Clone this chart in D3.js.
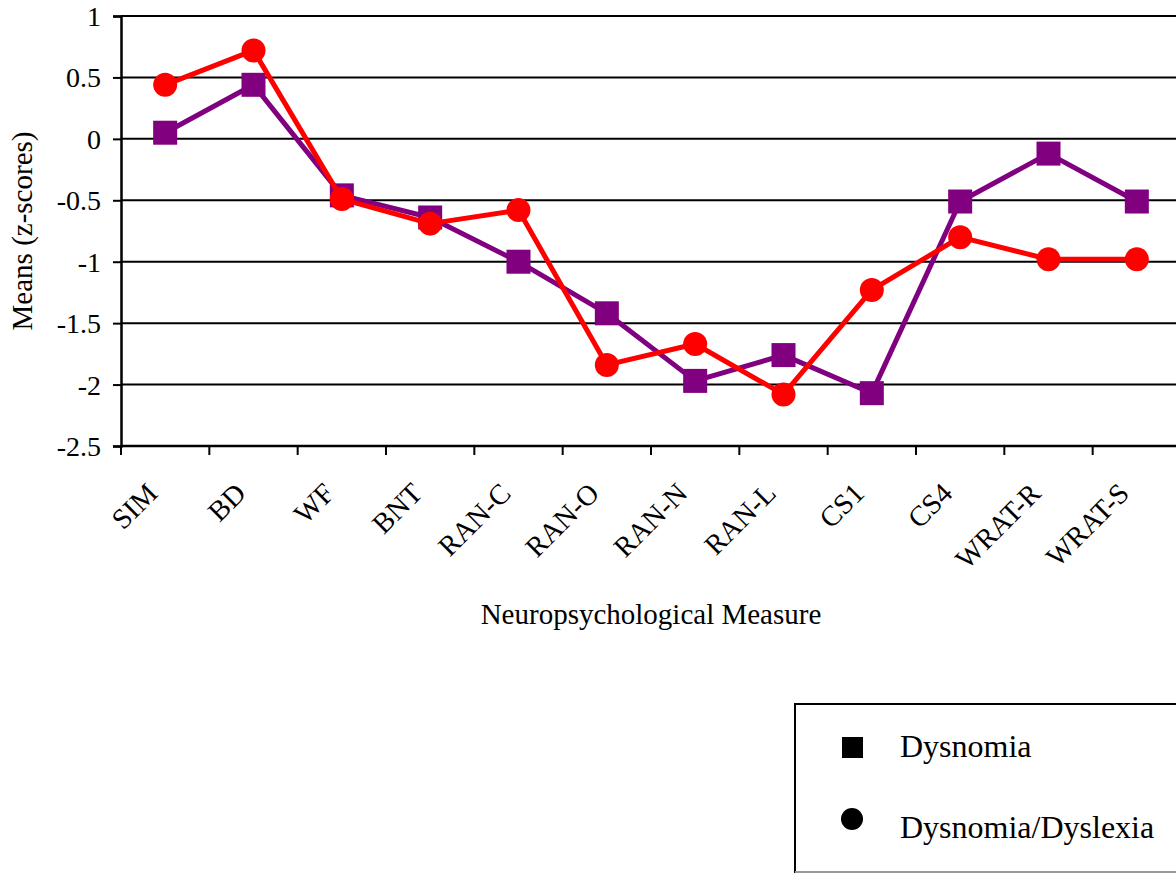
<!DOCTYPE html>
<html>
<head>
<meta charset="utf-8">
<script src="https://cdn.jsdelivr.net/npm/d3@7"></script>
<style>
html,body{margin:0;padding:0;background:#fff;overflow:hidden;}
svg{display:block;}
text{font-family:"Liberation Serif","Times New Roman",serif;fill:#000;}
</style>
</head>
<body>
<svg id="chart" width="1176" height="873"></svg>
<script>
const categories = ["SIM","BD","WF","BNT","RAN-C","RAN-O","RAN-N","RAN-L","CS1","CS4","WRAT-R","WRAT-S"];
const dysnomia = [0.05, 0.44, -0.46, -0.64, -1.0, -1.42, -1.97, -1.76, -2.07, -0.51, -0.12, -0.51];
const dysnomiaDyslexia = [0.44, 0.72, -0.49, -0.69, -0.58, -1.84, -1.67, -2.08, -1.23, -0.80, -0.98, -0.98];
const yTicks = [1, 0.5, 0, -0.5, -1, -1.5, -2, -2.5];
const seriesNames = ["Dysnomia", "Dysnomia/Dyslexia"];
const seriesColors = ["#800080", "#ff0000"];

const svg = d3.select("#chart");
const pLeft = 121, pRight = 1181, pTop = 16, pBottom = 446;

const x = d3.scaleBand().domain(categories).range([pLeft, pRight]).padding(0);
const y = d3.scaleLinear().domain([-2.5, 1]).range([pBottom, pTop]);

// gridlines
svg.append("g").selectAll("line")
  .data(yTicks.filter(v => v > -2.5))
  .join("line")
  .attr("x1", pLeft).attr("x2", pRight)
  .attr("y1", d => y(d)).attr("y2", d => y(d))
  .attr("stroke", "#000").attr("stroke-width", 2);

// y axis
const yAxis = d3.axisLeft(y).tickValues(yTicks).tickSize(8).tickPadding(12)
  .tickFormat(d => String(d));
const gy = svg.append("g").attr("transform", `translate(${pLeft},0)`).call(yAxis);
gy.select(".domain").attr("stroke", "#000").attr("stroke-width", 2.5);
gy.selectAll(".tick line").attr("stroke", "#000").attr("stroke-width", 2);
gy.selectAll(".tick text").style("font-size", "28px").attr("dy", "0.34em")
  .style("font-family", '"Liberation Serif","Times New Roman",serif');

// x axis
const xTickPos = d3.scaleLinear().domain([0, categories.length]).range([pLeft, pRight]);
const gx = svg.append("g");
gx.append("line").attr("x1", pLeft).attr("x2", pRight).attr("y1", pBottom).attr("y2", pBottom)
  .attr("stroke", "#000").attr("stroke-width", 2.5);
gx.selectAll("line.tk").data(d3.range(categories.length + 1)).join("line")
  .attr("class", "tk")
  .attr("x1", d => xTickPos(d)).attr("x2", d => xTickPos(d))
  .attr("y1", pBottom).attr("y2", pBottom + 9)
  .attr("stroke", "#000").attr("stroke-width", 2);
gx.selectAll("text").data(categories).join("text")
  .attr("transform", d => `translate(${x(d) + x.bandwidth() / 2 - 6},${495}) rotate(-45)`)
  .attr("text-anchor", "end")
  .style("font-size", "28.5px")
  .text(d => d);

// axis titles
svg.append("text")
  .attr("x", (pLeft + pRight) / 2).attr("y", 624)
  .attr("text-anchor", "middle").style("font-size", "29px")
  .text("Neuropsychological Measure");
svg.append("text")
  .attr("transform", `translate(32,${(pTop + pBottom) / 2}) rotate(-90)`)
  .attr("text-anchor", "middle").style("font-size", "29px")
  .text("Means (z-scores)");

// series
const line = d3.line().x((d, i) => x(categories[i]) + x.bandwidth() / 2).y(d => y(d));
const allSeries = [dysnomia, dysnomiaDyslexia];
allSeries.forEach((vals, si) => {
  const g = svg.append("g");
  g.append("path").datum(vals).attr("d", line)
    .attr("fill", "none").attr("stroke", seriesColors[si]).attr("stroke-width", 5)
    .attr("stroke-linejoin", "round");
  if (si === 0) {
    g.selectAll("rect").data(vals).join("rect")
      .attr("x", (d, i) => x(categories[i]) + x.bandwidth() / 2 - 12)
      .attr("y", d => y(d) - 12)
      .attr("width", 24).attr("height", 24)
      .attr("fill", seriesColors[si]);
  } else {
    g.selectAll("circle").data(vals).join("circle")
      .attr("cx", (d, i) => x(categories[i]) + x.bandwidth() / 2)
      .attr("cy", d => y(d))
      .attr("r", 12)
      .attr("fill", seriesColors[si]);
  }
});

// legend
const lg = svg.append("g");
lg.append("rect").attr("x", 795).attr("y", 704).attr("width", 400).attr("height", 168)
  .attr("fill", "#fff").attr("stroke", "#000").attr("stroke-width", 2);
lg.append("line").attr("x1", 795).attr("x2", 1176).attr("y1", 872).attr("y2", 872)
  .attr("stroke", "#999").attr("stroke-width", 2);
lg.append("rect").attr("x", 842).attr("y", 737).attr("width", 21).attr("height", 21).attr("fill", "#000");
lg.append("circle").attr("cx", 852).attr("cy", 819).attr("r", 11).attr("fill", "#000");
lg.append("text").attr("x", 900).attr("y", 757).style("font-size", "32px").text(seriesNames[0]);
lg.append("text").attr("x", 900).attr("y", 838).style("font-size", "32px").text(seriesNames[1]);
</script>
</body>
</html>
